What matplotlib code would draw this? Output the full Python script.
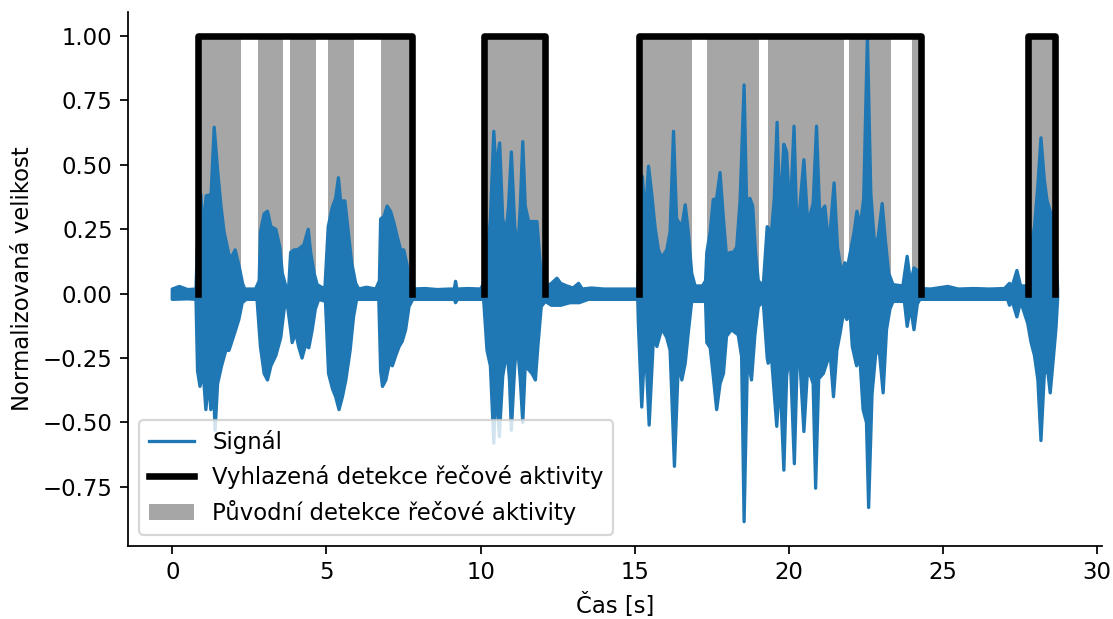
import matplotlib.pyplot as plt
import numpy as np
from matplotlib.lines import Line2D

plt.rcParams['font.size'] = 10.4

# upper envelope of the signal (time [s], value)
hi_t = [0.0, 0.23, 0.5, 0.77, 0.82, 0.93, 0.98, 1.1, 1.26, 1.36, 1.47, 1.58, 1.68, 1.85, 1.96, 2.04,
        2.17, 2.28, 2.35, 2.7, 2.82, 2.86, 2.98, 3.09, 3.2, 3.36, 3.49, 3.57, 3.68, 3.78, 3.84,
        3.95, 4.06, 4.17, 4.27, 4.41, 4.49, 4.6, 4.7, 4.95, 5.06, 5.19, 5.3, 5.39, 5.46, 5.6,
        5.71, 5.82, 5.95, 6.05, 6.3, 6.6, 6.72, 6.76, 6.87, 6.97, 7.08, 7.19, 7.3, 7.41, 7.51,
        7.62, 7.67, 7.8, 8.2, 8.6, 9.0, 9.15, 9.19, 9.23, 9.6, 10.0, 10.15, 10.21, 10.32, 10.43,
        10.5, 10.62, 10.72, 10.83, 10.91, 11.0, 11.11, 11.21, 11.29, 11.37, 11.45, 11.56, 11.72,
        11.83, 11.94, 12.01, 12.1, 12.3, 12.48, 12.6, 12.8, 13.0, 13.18, 13.3, 13.6, 14.0, 14.4,
        14.8, 15.1, 15.15, 15.25, 15.34, 15.45, 15.55, 15.66, 15.77, 15.88, 16.04, 16.15, 16.26,
        16.36, 16.53, 16.64, 16.74, 16.85, 16.96, 17.2, 17.3, 17.34, 17.45, 17.55, 17.66, 17.77,
        17.88, 17.98, 18.09, 18.2, 18.31, 18.42, 18.55, 18.63, 18.74, 18.83, 18.92, 19.01, 19.17,
        19.3, 19.44, 19.53, 19.62, 19.71, 19.84, 19.93, 20.04, 20.17, 20.27, 20.36, 20.49, 20.6,
        20.7, 20.79, 20.9, 21.0, 21.17, 21.3, 21.47, 21.58, 21.71, 21.82, 21.9, 22.01, 22.12,
        22.21, 22.32, 22.43, 22.55, 22.66, 22.79, 22.9, 23.03, 23.13, 23.24, 23.38, 23.7, 23.84,
        23.95, 24.06, 24.17, 24.25, 24.6, 25.16, 25.5, 26.0, 26.5, 27.0, 27.16, 27.25, 27.4,
        27.52, 27.75, 27.86, 27.97, 28.08, 28.18, 28.29, 28.38, 28.48, 28.59, 28.67, 28.72]
hi_v = [0.018, 0.028, 0.016, 0.018, 0.2, 0.385, 0.24, 0.38, 0.385, 0.646, 0.48, 0.34, 0.24, 0.145,
        0.15, 0.17, 0.106, 0.04, 0.018, 0.018, 0.05, 0.24, 0.31, 0.32, 0.26, 0.25, 0.18, 0.08,
        0.03, 0.03, 0.16, 0.17, 0.17, 0.18, 0.19, 0.25, 0.16, 0.08, 0.035, 0.018, 0.26, 0.335,
        0.37, 0.45, 0.36, 0.36, 0.24, 0.12, 0.04, 0.018, 0.025, 0.018, 0.05, 0.29, 0.30, 0.34,
        0.32, 0.275, 0.22, 0.17, 0.17, 0.11, 0.04, 0.018, 0.02, 0.016, 0.018, 0.018, 0.048, 0.018,
        0.02, 0.018, 0.05, 0.13, 0.29, 0.63, 0.48, 0.585, 0.29, 0.24, 0.34, 0.55, 0.26, 0.17, 0.34,
        0.59, 0.34, 0.28, 0.28, 0.28, 0.11, 0.04, 0.025, 0.04, 0.06, 0.04, 0.03, 0.022, 0.04,
        0.018, 0.022, 0.018, 0.018, 0.018, 0.018, 0.2, 0.455, 0.29, 0.495, 0.39, 0.26, 0.17, 0.14,
        0.17, 0.24, 0.63, 0.29, 0.26, 0.345, 0.24, 0.08, 0.03, 0.03, 0.05, 0.16, 0.24, 0.365, 0.37,
        0.47, 0.29, 0.145, 0.16, 0.16, 0.18, 0.36, 0.81, 0.36, 0.37, 0.34, 0.16, 0.05, 0.03, 0.26,
        0.24, 0.37, 0.665, 0.30, 0.58, 0.55, 0.29, 0.65, 0.21, 0.34, 0.52, 0.30, 0.31, 0.35, 0.65,
        0.31, 0.34, 0.18, 0.43, 0.18, 0.08, 0.12, 0.10, 0.17, 0.24, 0.32, 0.26, 0.37, 1.0, 0.39,
        0.18, 0.22, 0.35, 0.21, 0.08, 0.035, 0.03, 0.145, 0.04, 0.10, 0.09, 0.02, 0.018, 0.028,
        0.018, 0.02, 0.018, 0.02, 0.04, 0.03, 0.09, 0.03, 0.03, 0.18, 0.26, 0.42, 0.605, 0.44,
        0.36, 0.32, 0.30, 0.16, 0.02]

# lower envelope of the signal
lo_t = [0.0, 0.5, 0.77, 0.82, 0.9, 1.0, 1.09, 1.18, 1.25, 1.33, 1.39, 1.47, 1.6, 1.74, 1.84, 2.03,
        2.16, 2.27, 2.4, 2.75, 2.86, 2.98, 3.09, 3.2, 3.36, 3.52, 3.63, 3.72, 3.84, 3.89, 4.0, 4.1,
        4.21, 4.32, 4.43, 4.54, 4.64, 4.75, 4.97, 5.07, 5.2, 5.3, 5.41, 5.52, 5.63, 5.77, 5.88,
        5.98, 6.7, 6.76, 6.82, 6.93, 7.04, 7.14, 7.25, 7.36, 7.46, 7.57, 7.68, 7.8, 9.15, 9.19,
        9.25, 10.1, 10.21, 10.32, 10.43, 10.5, 10.61, 10.72, 10.86, 10.94, 11.0, 11.11, 11.19,
        11.29, 11.37, 11.45, 11.56, 11.67, 11.78, 11.86, 11.97, 12.1, 12.3, 12.6, 12.9, 13.2, 13.5,
        15.1, 15.12, 15.23, 15.34, 15.47, 15.61, 15.72, 15.88, 16.04, 16.15, 16.29, 16.42, 16.53,
        16.64, 16.74, 16.85, 17.3, 17.34, 17.45, 17.55, 17.66, 17.77, 17.88, 17.98, 18.14, 18.25,
        18.36, 18.47, 18.55, 18.66, 18.79, 18.9, 19.01, 19.17, 19.3, 19.33, 19.44, 19.61, 19.71,
        19.84, 19.93, 20.04, 20.18, 20.27, 20.36, 20.49, 20.6, 20.71, 20.79, 20.87, 20.97, 21.12,
        21.23, 21.34, 21.45, 21.56, 21.67, 21.78, 21.88, 21.99, 22.06, 22.2, 22.3, 22.41, 22.52,
        22.59, 22.7, 22.84, 22.95, 23.06, 23.17, 23.28, 23.38, 23.75, 23.84, 23.95, 24.06, 24.17,
        24.25, 27.1, 27.16, 27.25, 27.4, 27.52, 27.75, 27.86, 27.97, 28.08, 28.18, 28.29, 28.4,
        28.48, 28.59, 28.67, 28.72]
lo_v = [-0.022, -0.02, -0.022, -0.30, -0.36, -0.30, -0.45, -0.33, -0.45, -0.35, -0.53, -0.35,
        -0.28, -0.22, -0.22, -0.15, -0.10, -0.035, -0.022, -0.022, -0.205, -0.31, -0.335, -0.28,
        -0.24, -0.17, -0.06, -0.03, -0.14, -0.19, -0.15, -0.205, -0.25, -0.20, -0.21, -0.14, -0.06,
        -0.022, -0.03, -0.31, -0.37, -0.40, -0.45, -0.40, -0.335, -0.22, -0.09, -0.022, -0.022,
        -0.3, -0.36, -0.335, -0.27, -0.28, -0.24, -0.205, -0.185, -0.14, -0.05, -0.022, -0.022,
        -0.035, -0.022, -0.022, -0.22, -0.28, -0.58, -0.335, -0.555, -0.32, -0.22, -0.335, -0.53,
        -0.28, -0.185, -0.335, -0.50, -0.28, -0.295, -0.31, -0.335, -0.205, -0.05, -0.03, -0.045,
        -0.045, -0.035, -0.035, -0.022, -0.022, -0.115, -0.44, -0.17, -0.51, -0.17, -0.205, -0.135,
        -0.17, -0.22, -0.67, -0.26, -0.335, -0.27, -0.15, -0.03, -0.03, -0.19, -0.21, -0.32, -0.45,
        -0.35, -0.31, -0.165, -0.14, -0.15, -0.16, -0.245, -0.885, -0.245, -0.335, -0.16, -0.05,
        -0.03, -0.25, -0.27, -0.25, -0.515, -0.31, -0.685, -0.32, -0.22, -0.66, -0.27, -0.26,
        -0.535, -0.31, -0.32, -0.35, -0.755, -0.33, -0.31, -0.27, -0.23, -0.40, -0.22, -0.15,
        -0.07, -0.10, -0.08, -0.205, -0.28, -0.24, -0.45, -0.50, -0.83, -0.39, -0.205, -0.24,
        -0.385, -0.14, -0.06, -0.03, -0.03, -0.127, -0.05, -0.14, -0.04, -0.022, -0.022, -0.045,
        -0.03, -0.09, -0.03, -0.115, -0.19, -0.24, -0.335, -0.57, -0.31, -0.30, -0.385, -0.24,
        -0.13, -0.02]

# smoothed detection (black) - start / end of each active block
vad_on = [0.82, 10.10, 15.14, 27.75]
vad_off = [7.78, 12.08, 24.30, 28.64]

# original detection (gray)
orig_on = [0.93, 2.79, 3.82, 5.05, 6.77, 10.10, 15.18, 17.34, 19.31, 21.95, 24.0, 27.83]
orig_off = [2.22, 3.60, 4.65, 5.89, 7.75, 12.08, 16.87, 19.03, 21.78, 23.33, 24.25, 28.6]

dpi = 158
fig, ax = plt.subplots(figsize=(1113 / dpi, 619 / dpi), dpi=dpi)
fig.subplots_adjust(left=0.115, right=0.99, top=0.981, bottom=0.118)

# gray blocks
for i, (a, b) in enumerate(zip(orig_on, orig_off)):
    ax.fill_between([a, b], 0, 1, color='gray', alpha=0.7, linewidth=0, zorder=1)

# signal envelope as one polygon
px = np.r_[hi_t, lo_t[::-1]]
py = np.r_[hi_v, lo_v[::-1]]
ax.fill(px, py, color='C0', lw=1.5, joinstyle='round', zorder=2)

# smoothed detection line, broken between blocks
bx, by = [], []
for a, b in zip(vad_on, vad_off):
    bx += [a, a, b, b, np.nan]
    by += [0, 1, 1, 0, np.nan]
ax.plot(bx, by, color='black', lw=3, zorder=3)

ax.spines['top'].set_visible(False)
ax.spines['right'].set_visible(False)
ax.set_yticks([-0.75, -0.5, -0.25, 0, 0.25, 0.5, 0.75, 1.0])
ax.set_xlabel('Čas [s]')
ax.set_ylabel('Normalizovaná velikost')

handles = [Line2D([], [], color='C0', lw=1.5),
           Line2D([], [], color='black', lw=3),
           plt.Rectangle((0, 0), 1, 1, color='gray', alpha=0.7, lw=0)]
labels = ['Signál', 'Vyhlazená detekce řečové aktivity', 'Původní detekce řečové aktivity']
ax.legend(handles, labels, loc='lower left')

fig.savefig('out.png', dpi=dpi)
